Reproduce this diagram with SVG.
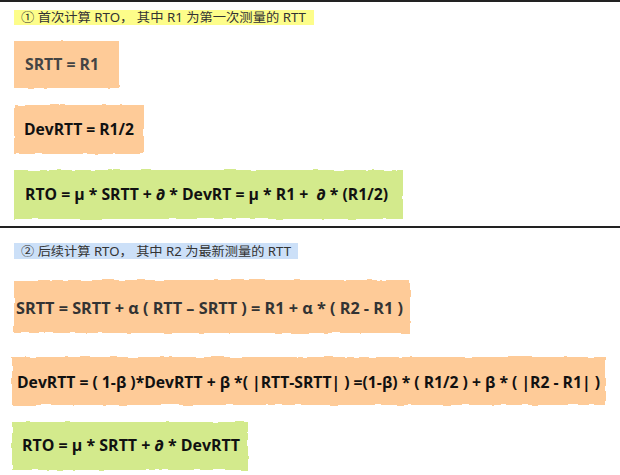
<svg xmlns="http://www.w3.org/2000/svg" width="620" height="475" viewBox="0 0 620 475">
<defs>
<filter id="rough" x="-5%" y="-10%" width="110%" height="120%">
<feTurbulence type="fractalNoise" baseFrequency="0.08" numOctaves="2" seed="3" result="n"/>
<feDisplacementMap in="SourceGraphic" in2="n" scale="3" xChannelSelector="R" yChannelSelector="G"/>
</filter>
</defs>
<style>
.orange{fill:#fecb98;filter:url(#rough)}
.green{fill:#d3ea8c;filter:url(#rough)}
.f{font-family:"Open Sans","Noto Sans",sans-serif;font-weight:bold;font-size:15.5px;fill:#111;white-space:pre}
.h{font-family:"Noto Sans","Noto Sans CJK SC",sans-serif;font-size:12.5px;fill:#333}
.rule{stroke:#222;stroke-width:2}
</style>
<g id="rules">
<line class="rule" x1="0" y1="1" x2="620" y2="1"/>
<line class="rule" x1="0" y1="227" x2="620" y2="227"/>
</g>
<g id="header1">
<rect x="14" y="10" width="300" height="15" fill="#fdfd8a"/>
<text class="h" x="21" y="22" textLength="285" lengthAdjust="spacingAndGlyphs">① 首次计算 RTO， 其中 R1 为第一次测量的 RTT</text>
</g>
<g id="srtt1">
<rect class="orange" x="14" y="41" width="105" height="47"/>
<text class="f" x="25" y="70" style="fill:#444" textLength="74" lengthAdjust="spacingAndGlyphs">SRTT = R1</text>
</g>
<g id="devrtt1">
<rect class="orange" x="14" y="105" width="130" height="49"/>
<text class="f" x="24" y="135" textLength="110" lengthAdjust="spacingAndGlyphs">DevRTT = R1/2</text>
</g>
<g id="rto1">
<rect class="green" x="14" y="170" width="389" height="49"/>
<text class="f" x="25" y="200" textLength="363" lengthAdjust="spacingAndGlyphs">RTO = μ * SRTT + ∂ * DevRT = μ * R1 +  ∂ * (R1/2)</text>
</g>
<g id="header2">
<rect x="14" y="243" width="284" height="16" fill="#cce0f8"/>
<text class="h" x="21" y="256" textLength="270" lengthAdjust="spacingAndGlyphs">② 后续计算 RTO， 其中 R2 为最新测量的 RTT</text>
</g>
<g id="srtt2">
<rect class="orange" x="14" y="280" width="396" height="53"/>
<text class="f" x="16" y="314" style="fill:#333" textLength="387" lengthAdjust="spacingAndGlyphs">SRTT = SRTT + α ( RTT – SRTT ) = R1 + α * ( R2 - R1 )</text>
</g>
<g id="devrtt2">
<rect class="orange" x="12" y="357" width="594" height="48"/>
<text class="f" x="17" y="388" textLength="583" lengthAdjust="spacingAndGlyphs">DevRTT = ( 1-β )*DevRTT + β *( |RTT-SRTT| ) =(1-β) * ( R1/2 ) + β * ( |R2 - R1| )</text>
</g>
<g id="rto2">
<rect class="green" x="12" y="422" width="236" height="48"/>
<text class="f" x="22" y="451" textLength="218" lengthAdjust="spacingAndGlyphs">RTO = μ * SRTT + ∂ * DevRTT</text>
</g>
<g id="connectors"/>
</svg>
